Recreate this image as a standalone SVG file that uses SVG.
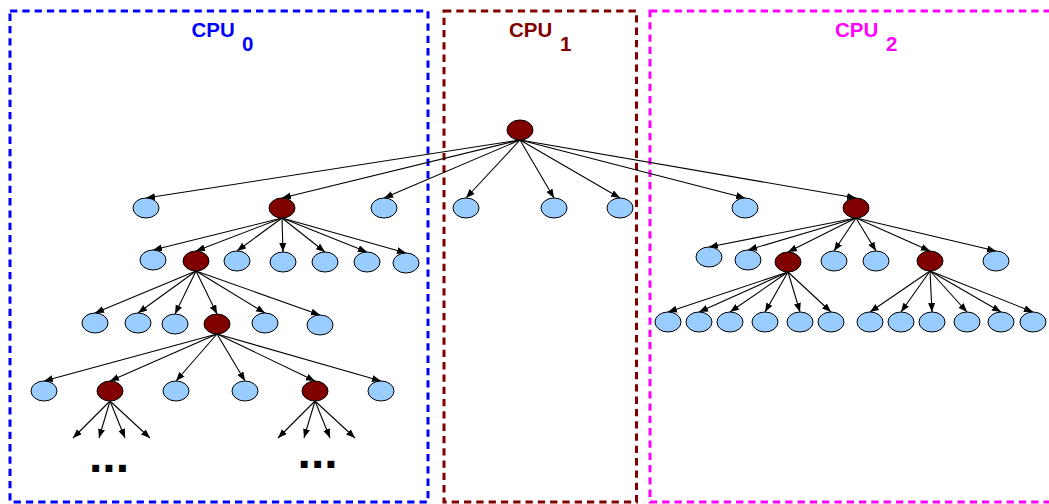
<svg xmlns="http://www.w3.org/2000/svg" width="1049" height="504" viewBox="0 0 1049 504">
<style>
.box{fill:none;stroke-width:3;stroke-dasharray:7.3 5}
.ttl{font-family:"Liberation Sans",Arial,sans-serif;font-weight:bold;font-size:20.5px}
.e{fill:none;stroke:#000;stroke-width:1.1;marker-end:url(#ah)}
.l{fill:#99CCFF;stroke:#000;stroke-width:1}
.d{fill:#800000;stroke:#000;stroke-width:1}
.dots{font-family:"Liberation Sans",Arial,sans-serif;font-weight:bold;font-size:48px;fill:#000}
</style>
<defs>
<marker id="ah" markerUnits="userSpaceOnUse" markerWidth="10" markerHeight="8" refX="9" refY="3.5" orient="auto">
<path d="M0,0 L9,3.5 L0,7 z" fill="#000"/>
</marker>
</defs>
<rect width="1049" height="504" fill="#fff"/>
<g id="cpu0">
<rect class="box" x="10" y="11" width="418" height="491" stroke="#0000FF"/>
<text class="ttl" fill="#0000FF" x="191.5" y="37">CPU<tspan x="242" y="50.5">0</tspan></text>
</g>
<g id="cpu1">
<rect class="box" x="444" y="11" width="192.5" height="491" stroke="#800000"/>
<text class="ttl" fill="#800000" x="509" y="37">CPU<tspan x="560" y="50.5">1</tspan></text>
</g>
<g id="cpu2">
<rect class="box" x="650" y="11" width="410" height="491" stroke="#FF00FF"/>
<text class="ttl" fill="#FF00FF" x="835" y="37">CPU<tspan x="886" y="50.5">2</tspan></text>
</g>
<g id="connectors">
<path class="e" d="M520,140 L146,198"/>
<path class="e" d="M520,140 L282,198"/>
<path class="e" d="M520,140 L384,198"/>
<path class="e" d="M520,140 L466,198"/>
<path class="e" d="M520,140 L554,198"/>
<path class="e" d="M520,140 L620,198"/>
<path class="e" d="M520,140 L745,198"/>
<path class="e" d="M520,140 L856,198"/>
<path class="e" d="M282,218 L153,250"/>
<path class="e" d="M282,218 L196,251"/>
<path class="e" d="M282,218 L237,251"/>
<path class="e" d="M282,218 L283,252"/>
<path class="e" d="M282,218 L325,252"/>
<path class="e" d="M282,218 L367,252"/>
<path class="e" d="M282,218 L406,253"/>
<path class="e" d="M196,271 L95,313"/>
<path class="e" d="M196,271 L138,313"/>
<path class="e" d="M196,271 L175,314"/>
<path class="e" d="M196,271 L217,314"/>
<path class="e" d="M196,271 L265,313"/>
<path class="e" d="M196,271 L320,315"/>
<path class="e" d="M217,334 L44,381"/>
<path class="e" d="M217,334 L110,381"/>
<path class="e" d="M217,334 L176,381"/>
<path class="e" d="M217,334 L245,381"/>
<path class="e" d="M217,334 L315,381"/>
<path class="e" d="M217,334 L381,381"/>
<path class="e" d="M110,401 L73,438"/>
<path class="e" d="M110,401 L99,438"/>
<path class="e" d="M110,401 L125,438"/>
<path class="e" d="M110,401 L150,438"/>
<path class="e" d="M315,401 L278,438"/>
<path class="e" d="M315,401 L304,438"/>
<path class="e" d="M315,401 L330,438"/>
<path class="e" d="M315,401 L355,438"/>
<path class="e" d="M856,218 L709,247"/>
<path class="e" d="M856,218 L748,250"/>
<path class="e" d="M856,218 L788,252"/>
<path class="e" d="M856,218 L834,251"/>
<path class="e" d="M856,218 L876,251"/>
<path class="e" d="M856,218 L930,251"/>
<path class="e" d="M856,218 L996,251"/>
<path class="e" d="M788,272 L668,312"/>
<path class="e" d="M788,272 L699,312"/>
<path class="e" d="M788,272 L730,312"/>
<path class="e" d="M788,272 L765,312"/>
<path class="e" d="M788,272 L800,312"/>
<path class="e" d="M788,272 L831,312"/>
<path class="e" d="M930,271 L870,312"/>
<path class="e" d="M930,271 L901,312"/>
<path class="e" d="M930,271 L932,312"/>
<path class="e" d="M930,271 L967,312"/>
<path class="e" d="M930,271 L1001,312"/>
<path class="e" d="M930,271 L1033,312"/>
</g>
<g id="root"><ellipse class="d" cx="520" cy="130" rx="13" ry="10"/></g>
<g id="a1"><ellipse class="l" cx="146" cy="208" rx="13" ry="10"/></g>
<g id="a2"><ellipse class="d" cx="282" cy="208" rx="13" ry="10"/></g>
<g id="a3"><ellipse class="l" cx="384" cy="208" rx="13" ry="10"/></g>
<g id="a4"><ellipse class="l" cx="466" cy="208" rx="13" ry="10"/></g>
<g id="a5"><ellipse class="l" cx="554" cy="208" rx="13" ry="10"/></g>
<g id="a6"><ellipse class="l" cx="620" cy="208" rx="13" ry="10"/></g>
<g id="a7"><ellipse class="l" cx="745" cy="208" rx="13" ry="10"/></g>
<g id="a8"><ellipse class="d" cx="856" cy="208" rx="13" ry="10"/></g>
<g id="b1"><ellipse class="l" cx="153" cy="260" rx="13" ry="10"/></g>
<g id="b2"><ellipse class="d" cx="196" cy="261" rx="13" ry="10"/></g>
<g id="b3"><ellipse class="l" cx="237" cy="261" rx="13" ry="10"/></g>
<g id="b4"><ellipse class="l" cx="283" cy="262" rx="13" ry="10"/></g>
<g id="b5"><ellipse class="l" cx="325" cy="262" rx="13" ry="10"/></g>
<g id="b6"><ellipse class="l" cx="367" cy="262" rx="13" ry="10"/></g>
<g id="b7"><ellipse class="l" cx="406" cy="263" rx="13" ry="10"/></g>
<g id="c1"><ellipse class="l" cx="95" cy="323" rx="13" ry="10"/></g>
<g id="c2"><ellipse class="l" cx="138" cy="323" rx="13" ry="10"/></g>
<g id="c3"><ellipse class="l" cx="175" cy="324" rx="13" ry="10"/></g>
<g id="c4"><ellipse class="d" cx="217" cy="324" rx="13" ry="10"/></g>
<g id="c5"><ellipse class="l" cx="265" cy="323" rx="13" ry="10"/></g>
<g id="c6"><ellipse class="l" cx="320" cy="325" rx="13" ry="10"/></g>
<g id="d1"><ellipse class="l" cx="44" cy="391" rx="13" ry="10"/></g>
<g id="d2"><ellipse class="d" cx="110" cy="391" rx="13" ry="10"/></g>
<g id="d3"><ellipse class="l" cx="176" cy="391" rx="13" ry="10"/></g>
<g id="d4"><ellipse class="l" cx="245" cy="391" rx="13" ry="10"/></g>
<g id="d5"><ellipse class="d" cx="315" cy="391" rx="13" ry="10"/></g>
<g id="d6"><ellipse class="l" cx="381" cy="391" rx="13" ry="10"/></g>
<g id="e1"><ellipse class="l" cx="709" cy="257" rx="13" ry="10"/></g>
<g id="e2"><ellipse class="l" cx="748" cy="260" rx="13" ry="10"/></g>
<g id="e3"><ellipse class="d" cx="788" cy="262" rx="13" ry="10"/></g>
<g id="e4"><ellipse class="l" cx="834" cy="261" rx="13" ry="10"/></g>
<g id="e5"><ellipse class="l" cx="876" cy="261" rx="13" ry="10"/></g>
<g id="e6"><ellipse class="d" cx="930" cy="261" rx="13" ry="10"/></g>
<g id="e7"><ellipse class="l" cx="996" cy="261" rx="13" ry="10"/></g>
<g id="f1"><ellipse class="l" cx="668" cy="322" rx="13" ry="10"/></g>
<g id="f2"><ellipse class="l" cx="699" cy="322" rx="13" ry="10"/></g>
<g id="f3"><ellipse class="l" cx="730" cy="322" rx="13" ry="10"/></g>
<g id="f4"><ellipse class="l" cx="765" cy="322" rx="13" ry="10"/></g>
<g id="f5"><ellipse class="l" cx="800" cy="322" rx="13" ry="10"/></g>
<g id="f6"><ellipse class="l" cx="831" cy="322" rx="13" ry="10"/></g>
<g id="g1"><ellipse class="l" cx="870" cy="322" rx="13" ry="10"/></g>
<g id="g2"><ellipse class="l" cx="901" cy="322" rx="13" ry="10"/></g>
<g id="g3"><ellipse class="l" cx="932" cy="322" rx="13" ry="10"/></g>
<g id="g4"><ellipse class="l" cx="967" cy="322" rx="13" ry="10"/></g>
<g id="g5"><ellipse class="l" cx="1001" cy="322" rx="13" ry="10"/></g>
<g id="g6"><ellipse class="l" cx="1033" cy="322" rx="13" ry="10"/></g>
<g id="more-left"><text class="dots" x="89" y="472">...</text></g>
<g id="more-right"><text class="dots" x="297.6" y="468">...</text></g>
</svg>
